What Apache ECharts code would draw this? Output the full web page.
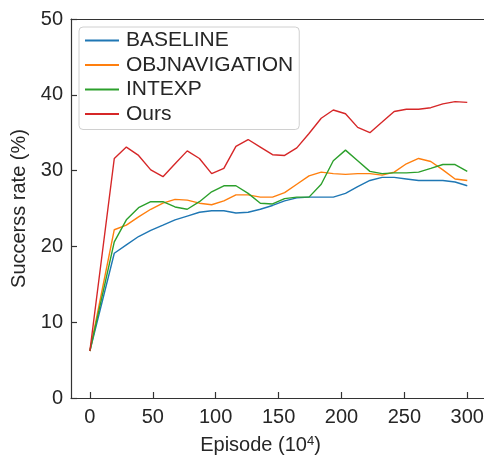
<!DOCTYPE html>
<html>
<head>
<meta charset="utf-8">
<script src="https://cdn.jsdelivr.net/npm/echarts@6/dist/echarts.min.js"></script>
<style>
  html, body { margin: 0; padding: 0; background: #fff; }
  #chart { width: 484px; height: 456px; }
</style>
</head>
<body>
<div id="chart"></div>
<script>
// episode positions (x 10^4)
var episodes = [0, 19.4, 29.0, 38.7, 48.4, 58.1, 67.7, 77.4, 87.1, 96.8, 106.5, 116.1, 125.8, 135.5, 145.2, 154.8,
  164.5, 174.2, 183.9, 193.5, 203.2, 212.9, 222.6, 232.3, 241.9, 251.6, 261.3, 271.0, 280.6, 290.3, 300];

var baseline = [6.2, 19.1, 20.2, 21.3, 22.1, 22.8, 23.5, 24.0, 24.5, 24.7, 24.7, 24.4, 24.5, 24.9, 25.4, 26.0,
  26.4, 26.5, 26.5, 26.5, 27.0, 27.9, 28.7, 29.1, 29.1, 28.9, 28.7, 28.7, 28.7, 28.5, 28.0];
var objnav = [6.2, 22.2, 22.8, 23.9, 24.9, 25.7, 26.2, 26.1, 25.7, 25.5, 26.0, 26.8, 26.8, 26.5, 26.5, 27.1,
  28.2, 29.3, 29.8, 29.6, 29.5, 29.6, 29.6, 29.4, 29.8, 30.9, 31.6, 31.2, 30.1, 28.9, 28.7];
var intexp = [6.2, 20.6, 23.5, 25.1, 25.9, 25.9, 25.2, 24.9, 25.9, 27.2, 28.0, 28.0, 27.0, 25.7, 25.6, 26.3,
  26.5, 26.5, 28.2, 31.3, 32.7, 31.3, 29.9, 29.6, 29.7, 29.7, 29.8, 30.3, 30.8, 30.8, 29.9];
var ours = [6.2, 31.6, 33.1, 32.0, 30.1, 29.2, 30.9, 32.6, 31.6, 29.6, 30.3, 33.2, 34.1, 33.1, 32.1, 32.0,
  33.0, 34.9, 36.9, 38.0, 37.5, 35.7, 35.0, 36.4, 37.8, 38.1, 38.1, 38.3, 38.8, 39.1, 39.0];

var names = ['BASELINE', 'OBJNAVIGATION', 'INTEXP', 'Ours'];
var colors = ['#1f77b4', '#ff7f0e', '#2ca02c', '#d62728'];
var xTicks = [0, 50, 100, 150, 200, 250, 300];

var font = 'Liberation Sans, Arial, sans-serif';
var txt = '#262626';
var spine = { color: '#333', width: 1.2 };

function pairs(ys) {
  return episodes.map(function (x, i) { return [x, ys[i]]; });
}

var chart = echarts.init(document.getElementById('chart'));
var allData = [baseline, objnav, intexp, ours];

var option = {
  backgroundColor: '#ffffff',
  animation: false,
  color: colors,
  grid: { left: 71, top: 19, right: 0, bottom: 58, containLabel: false, outerBoundsMode: 'none' },
  legend: {
    orient: 'vertical',
    left: 79, top: 27,
    padding: [3, 6, 5, 6],
    icon: 'rect',
    itemWidth: 34, itemHeight: 2, itemGap: 3.5,
    backgroundColor: 'rgba(255,255,255,0.85)',
    borderColor: '#d0d0d0', borderWidth: 1, borderRadius: 4,
    textStyle: { fontFamily: font, fontSize: 21, color: txt, lineHeight: 20, padding: [0, 0, 0, 2] },
    data: names
  },
  xAxis: [{
    type: 'value', min: -15, max: 313.3,
    name: 'Episode (10{sup|4})',
    nameLocation: 'middle', nameGap: 37,
    nameTextStyle: {
      fontFamily: font, fontSize: 20, color: txt, padding: [0, 34, 0, 0],
      rich: { sup: { fontFamily: font, fontSize: 13, color: txt, verticalAlign: 'top', padding: [0, 0, 8, 0] } }
    },
    splitLine: { show: false },
    axisLine: { show: true, lineStyle: spine },
    axisTick: { show: true, inside: true, length: 6, customValues: xTicks, lineStyle: spine },
    axisLabel: { customValues: xTicks, margin: 9, fontFamily: font, fontSize: 20, color: txt }
  }, {
    // top spine only, the right one falls outside the picture
    type: 'value', position: 'top', min: -15, max: 313.3,
    splitLine: { show: false },
    axisLine: { show: true, onZero: false, lineStyle: spine },
    axisTick: { show: false },
    axisLabel: { show: false }
  }],
  yAxis: {
    type: 'value', min: 0, max: 50, interval: 10,
    name: 'Succerss rate (%)',
    nameLocation: 'middle', nameGap: 31,
    nameTextStyle: { fontFamily: font, fontSize: 20, color: txt },
    splitLine: { show: false },
    axisLine: { show: true, onZero: false, lineStyle: spine },
    axisTick: { show: true, inside: true, length: 6, lineStyle: spine },
    axisLabel: { margin: 8, fontFamily: font, fontSize: 20, color: txt }
  },
  series: names.map(function (n, k) {
    return {
      name: n,
      type: 'line',
      symbol: 'none',
      data: pairs(allData[k]),
      lineStyle: { width: 1.4, color: colors[k] },
      itemStyle: { color: colors[k] }
    };
  })
};

chart.setOption(option);
</script>
</body>
</html>
